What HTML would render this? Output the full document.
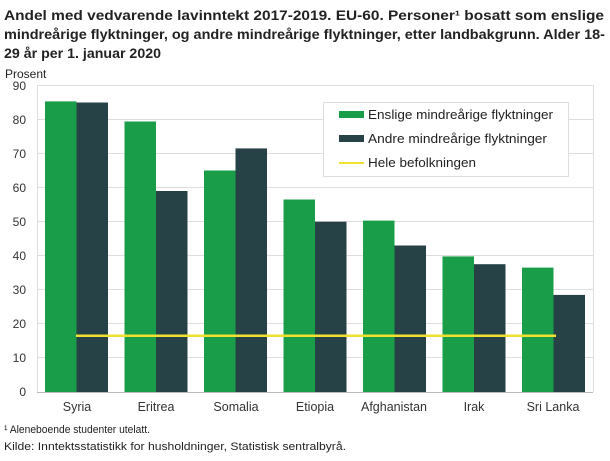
<!DOCTYPE html>
<html><head><meta charset="utf-8"><style>
body{margin:0;background:#fff;width:610px;height:456px;overflow:hidden;font-family:"Liberation Sans","DejaVu Sans",sans-serif;}
</style></head><body>
<svg width="610" height="456" xmlns="http://www.w3.org/2000/svg" font-family="'Liberation Sans','DejaVu Sans',sans-serif">
<text x="4" y="20" font-size="13.5" font-weight="bold" fill="#222" textLength="600" lengthAdjust="spacingAndGlyphs">Andel med vedvarende lavinntekt 2017-2019. EU-60. Personer¹ bosatt som enslige</text>
<text x="4" y="39" font-size="13.5" font-weight="bold" fill="#222" textLength="601" lengthAdjust="spacingAndGlyphs">mindreårige flyktninger, og andre mindreårige flyktninger, etter landbakgrunn. Alder 18-</text>
<text x="4" y="58" font-size="13.5" font-weight="bold" fill="#222" textLength="157" lengthAdjust="spacingAndGlyphs">29 år per 1. januar 2020</text>
<text x="5" y="78" font-size="12" fill="#222">Prosent</text>
<g stroke="#dddddd" stroke-width="1">
<line x1="37" x2="593" y1="85.5" y2="85.5"/><line x1="37" x2="593" y1="119.5" y2="119.5"/><line x1="37" x2="593" y1="153.5" y2="153.5"/><line x1="37" x2="593" y1="187.5" y2="187.5"/><line x1="37" x2="593" y1="221.5" y2="221.5"/><line x1="37" x2="593" y1="255.5" y2="255.5"/><line x1="37" x2="593" y1="289.5" y2="289.5"/><line x1="37" x2="593" y1="323.5" y2="323.5"/><line x1="37" x2="593" y1="357.5" y2="357.5"/>
<line x1="37.5" x2="37.5" y1="85" y2="392"/><line x1="593.5" x2="593.5" y1="85" y2="392"/>
</g>
<g font-size="12" fill="#333" text-anchor="end">
<text x="26" y="90">90</text><text x="26" y="124">80</text><text x="26" y="158">70</text><text x="26" y="192">60</text><text x="26" y="226">50</text><text x="26" y="260">40</text><text x="26" y="294">30</text><text x="26" y="328">20</text><text x="26" y="362">10</text><text x="26" y="396">0</text>
</g>
<g id="bars">
<rect x="45" y="101.4" width="31.5" height="290.6" fill="#1a9d49"/><rect x="76.5" y="102.5" width="31.5" height="289.5" fill="#274247"/>
<rect x="124.5" y="121.5" width="31.5" height="270.5" fill="#1a9d49"/><rect x="156" y="191" width="31.5" height="201" fill="#274247"/>
<rect x="204" y="170.5" width="31.5" height="221.5" fill="#1a9d49"/><rect x="235.5" y="148.4" width="31.5" height="243.6" fill="#274247"/>
<rect x="283.5" y="199.5" width="31.5" height="192.5" fill="#1a9d49"/><rect x="315" y="221.7" width="31.5" height="170.3" fill="#274247"/>
<rect x="363" y="220.6" width="31.5" height="171.4" fill="#1a9d49"/><rect x="394.5" y="245.5" width="31.5" height="146.5" fill="#274247"/>
<rect x="442.5" y="256.4" width="31.5" height="135.6" fill="#1a9d49"/><rect x="474" y="264.2" width="31.5" height="127.8" fill="#274247"/>
<rect x="522" y="267.6" width="31.5" height="124.4" fill="#1a9d49"/><rect x="553.5" y="294.9" width="31.5" height="97.1" fill="#274247"/>
</g>
<line x1="37" x2="593" y1="392.5" y2="392.5" stroke="#bbb"/>
<line x1="76" x2="556" y1="335.8" y2="335.8" stroke="#f0e130" stroke-width="2.5"/>
<g font-size="12.5" fill="#333" text-anchor="middle">
<text x="77" y="411">Syria</text><text x="156" y="411">Eritrea</text><text x="236" y="411">Somalia</text><text x="315" y="411">Etiopia</text><text x="394" y="411">Afghanistan</text><text x="474" y="411">Irak</text><text x="553" y="411">Sri Lanka</text>
</g>
<rect x="323.5" y="102.5" width="245" height="74" fill="#fff" stroke="#ddd"/>
<rect x="339" y="111" width="25" height="7" fill="#1a9d49"/>
<rect x="339" y="135" width="25" height="7" fill="#274247"/>
<line x1="339" x2="364" y1="163" y2="163" stroke="#f0e130" stroke-width="2"/>
<g font-size="12.5" fill="#222">
<text x="368" y="119" textLength="185" lengthAdjust="spacingAndGlyphs">Enslige mindreårige flyktninger</text>
<text x="368" y="143" textLength="179" lengthAdjust="spacingAndGlyphs">Andre mindreårige flyktninger</text>
<text x="368" y="167" textLength="108" lengthAdjust="spacingAndGlyphs">Hele befolkningen</text>
</g>
<text x="4" y="433" font-size="11" fill="#222" textLength="146" lengthAdjust="spacingAndGlyphs">¹ Aleneboende studenter utelatt.</text>
<text x="4" y="450" font-size="11" fill="#222" textLength="342" lengthAdjust="spacingAndGlyphs">Kilde: Inntektsstatistikk for husholdninger, Statistisk sentralbyrå.</text>
</svg>
</body></html>
